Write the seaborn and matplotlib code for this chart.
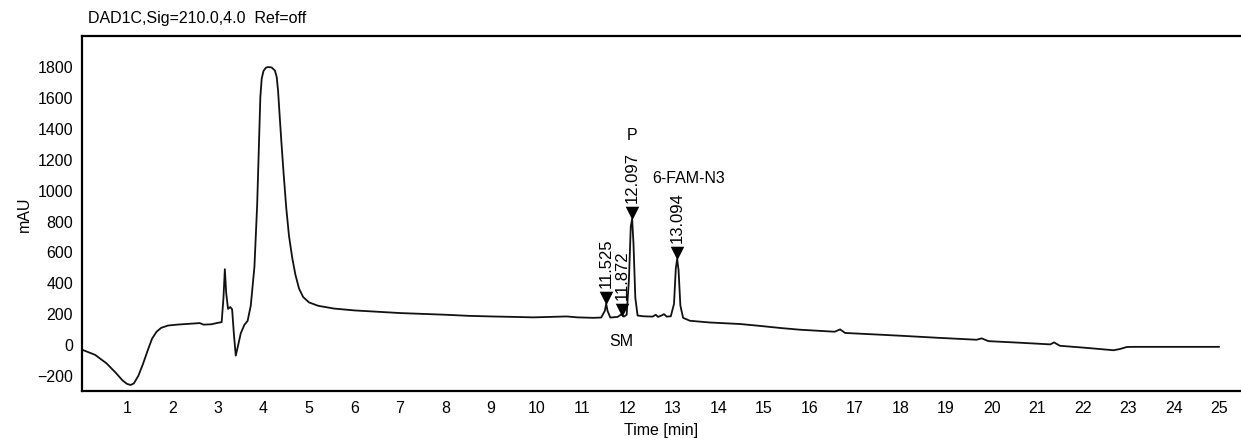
import matplotlib
matplotlib.use("Agg")
import matplotlib.pyplot as plt
import seaborn as sns
import pandas as pd

# chromatogram trace (time in min, signal in mAU)
time_min = [0.00, 0.30, 0.55, 0.75, 0.90, 1.00, 1.08, 1.15, 1.25, 1.35, 1.45, 1.55,
            1.65, 1.75, 1.90, 2.10, 2.40, 2.60, 2.68, 2.85, 3.00, 3.08, 3.12, 3.15,
            3.18, 3.22, 3.27, 3.31, 3.35, 3.39, 3.44, 3.50, 3.58, 3.65, 3.72, 3.80,
            3.86, 3.90, 3.93, 3.96, 4.00, 4.05, 4.10, 4.18, 4.25, 4.29, 4.32, 4.35,
            4.39, 4.44, 4.50, 4.56, 4.63, 4.70, 4.78, 4.87, 5.00, 5.20, 5.55, 6.00,
            7.00, 8.00, 8.50, 9.00, 9.50, 9.93, 10.30, 10.66, 10.90, 11.25, 11.42, 11.50,
            11.53, 11.56, 11.62, 11.78, 11.86, 11.92, 11.98, 12.03, 12.07, 12.10, 12.13, 12.17,
            12.22, 12.35, 12.55, 12.62, 12.67, 12.75, 12.80, 12.86, 12.95, 13.02, 13.06, 13.09,
            13.12, 13.16, 13.22, 13.37, 13.80, 14.47, 14.90, 15.40, 15.79, 16.20, 16.55, 16.67,
            16.78, 17.40, 18.00, 18.80, 19.67, 19.78, 19.93, 20.60, 21.29, 21.37, 21.50, 22.10,
            22.68, 22.82, 22.97, 23.12, 24.00, 25.00]
signal_mau = [-35, -70, -125, -185, -235, -258, -265, -255, -205, -130, -45, 35,
              80, 105, 120, 126, 132, 136, 126, 128, 138, 142, 300, 485,
              330, 228, 240, 225, 60, -75, -10, 70, 125, 150, 250, 500,
              900, 1300, 1600, 1720, 1770, 1790, 1795, 1792, 1772, 1730, 1640, 1500,
              1320, 1110, 880, 700, 560, 450, 360, 305, 270, 248, 230, 218,
              201, 190, 183, 179, 176, 173, 176, 179, 173, 170, 172, 215,
              262, 215, 172, 176, 192, 178, 190, 420, 760, 812, 650, 300,
              185, 180, 178, 190, 176, 186, 194, 178, 180, 260, 490, 552,
              480, 250, 170, 151, 140, 130, 118, 103, 93, 86, 80, 95,
              72, 63, 54, 41, 28, 37, 19, 9, -2, 11, -11, -25,
              -40, -32, -19, -18, -18, -18]

# integrated peaks
peak_rt = [11.525, 11.872, 12.097, 13.094]
peak_height = [262, 182, 812, 552]
peak_labels = ["11.525", "11.872", "12.097", "13.094"]

x_ticks = list(range(1, 26))
y_ticks = [-200, 0, 200, 400, 600, 800, 1000, 1200, 1400, 1600, 1800]

sns.set_style("white")
plt.rcParams['font.family'] = ['Liberation Sans', 'DejaVu Sans']
plt.rcParams['font.size'] = 11.5
plt.rcParams['text.color'] = 'black'
plt.rcParams['axes.labelcolor'] = 'black'
plt.rcParams['xtick.color'] = 'black'
plt.rcParams['ytick.color'] = 'black'

df = pd.DataFrame({"Time [min]": time_min, "mAU": signal_mau})

fig = plt.figure(figsize=(12.41, 4.39), dpi=100)
ax = fig.add_axes([81.5 / 1241, 1 - 392.3 / 439, 1 - 81.5 / 1241, (392.3 - 36.7) / 439])

sns.lineplot(data=df, x="Time [min]", y="mAU", sort=False, color="#111111",
             linewidth=1.3, ax=ax)

# peak markers: tip of the triangle sits on the apex
tri_h = 38
ax.scatter(peak_rt, [h + tri_h for h in peak_height], marker="v", s=95,
           color="black", zorder=3, linewidths=0)
for rt, h, lab in zip(peak_rt, peak_height, peak_labels):
    ax.annotate(lab, (rt, h), xytext=(0, 12), textcoords="offset points",
                rotation=90, ha="center", va="bottom", fontsize=12)

ax.annotate("P", (12.097, 812), xytext=(0, 55), textcoords="offset points",
            ha="center", va="bottom", fontsize=11.5)
ax.annotate("6-FAM-N3", (13.094, 552), xytext=(8, 53), textcoords="offset points",
            ha="center", va="bottom", fontsize=11.5)
ax.annotate("SM", (11.872, 182), xytext=(0, -12), textcoords="offset points",
            ha="center", va="top", fontsize=11.5)

ax.set_xlim(0, 25.48)
ax.set_ylim(-306, 1998)
ax.set_xticks(x_ticks)
ax.set_yticks(y_ticks)
ax.set_xlabel("Time [min]", fontsize=11.5, labelpad=5)
ax.set_ylabel("mAU", fontsize=11.5, labelpad=4)

ax.spines["right"].set_visible(False)
for side in ["left", "bottom", "top"]:
    ax.spines[side].set_linewidth(1.6)
    ax.spines[side].set_color("black")
ax.tick_params(axis="both", direction="out", length=4.5, width=1.6,
               color="#111827", labelsize=11.5, pad=1.5)

fig.text(88 / 1241, 1 - 18 / 439, "DAD1C,Sig=210.0,4.0  Ref=off",
         fontsize=11.5, va="center", ha="left")

fig.savefig("out.png", dpi=100)
